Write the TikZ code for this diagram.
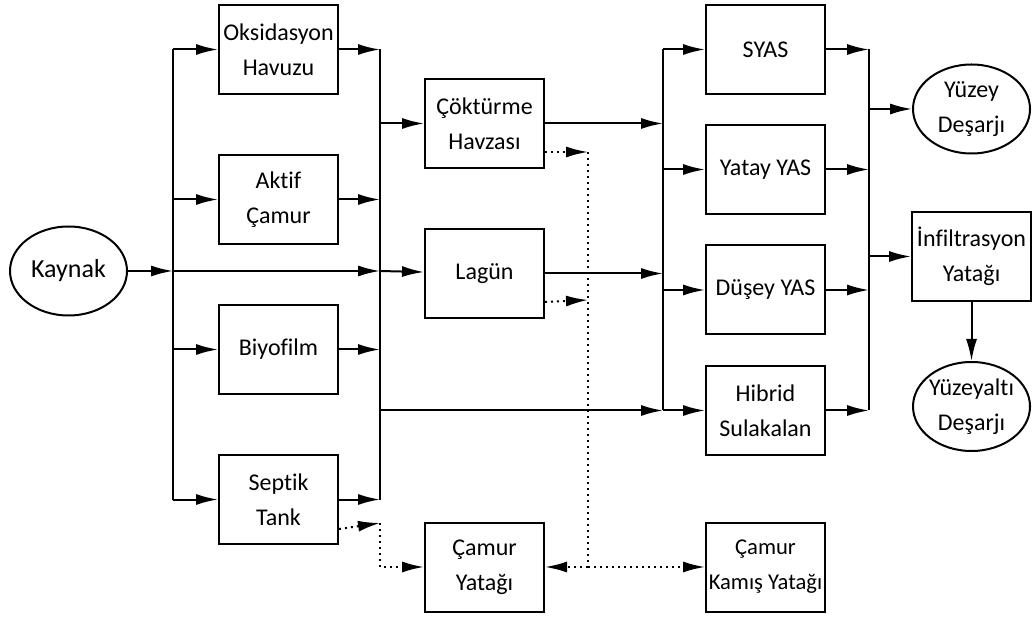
\documentclass[tikz,border=0pt]{standalone}
\usepackage{fontspec}
\setmainfont{Carlito}[Ligatures=CommonOff]
\usetikzlibrary{arrows.meta}
\usetikzlibrary{positioning}
\usetikzlibrary{shapes.geometric}

\begin{document}
\begin{tikzpicture}[x=0.5pt, y=-0.5pt, >={Latex[length=11pt, width=5.5pt]}, line width=1pt]
	\tikzstyle{box} = [draw, rectangle, minimum width=59.5pt, minimum height=44.5pt, inner sep=0pt, align=center, font=\fontsize{12}{17.5}\selectfont];
	\tikzstyle{oval} = [draw, ellipse, minimum width=58.5pt, minimum height=44.5pt, inner xsep=-1.2pt, inner ysep=0pt, align=center, font=\fontsize{12}{17.5}\selectfont];
	\tikzstyle{sludge} = [->, dotted];

	\useasboundingbox (0,0) rectangle (1032,619);

	\node [oval, font=\fontsize{13}{17.5}\selectfont] (kaynak) at (68.5,271) {Kaynak};

	\node [box] (oks)                          at (278.5,49.5) {Oksidasyon\\Havuzu};
	\node [box] (aktif)  [below=29.5pt of oks]   {Aktif\\Çamur};
	\node [box] (biyo)   [below=29.5pt of aktif] {Biyofilm};
	\node [box] (septik) [below=29.5pt of biyo]  {Septik\\Tank};

	\node [box] (cokt)                         at (484.5,123.5) {Çöktürme\\Havzası};
	\node [box] (lagun)  [below=29.5pt of cokt]  {Lagün};
	\node [box] (camur)                        at (484.5,567) {Çamur\\Yatağı};

	\node [box] (syas)                         at (765.5,49.5) {SYAS};
	\node [box] (yatay)  [below=14.5pt of syas]  {Yatay YAS};
	\node [box] (dusey)  [below=14.75pt of yatay] {Düşey YAS};
	\node [box] (hibrid) [below=14.75pt of dusey] {Hibrid\\Sulakalan};
	\node [box, font=\fontsize{11.3}{17.5}\selectfont] (kamis) at (765.5,567) {Çamur\\Kamış Yatağı};

	\node [oval] (yuzey)                       at (971.5,109) {Yüzey\\Deşarjı};
	\node [box] (infil)                        at (971.5,256.5) {İnfiltrasyon\\Yatağı};
	\node [oval] (yuzeyalti) [below=29.5pt of infil] {Yüzeyaltı\\Deşarjı};

	% collectors
	\coordinate (lbus) at (173,271);
	\coordinate (rbus) at (380,271);
	\coordinate (mbus) at (663,271);
	\coordinate (obus) at (869,271);
	\coordinate (dtop) at (588,152);
	\coordinate (dmid) at (588,300);
	\coordinate (dbot) at (588,567);
	\coordinate (sdot) at (380,523);
	\coordinate (sbot) at (380,567);

	% water line
	\draw [->] (kaynak) -- (lbus);
	\draw [->] (lbus) -- (rbus);
	\draw [->] (rbus) -- (lagun);
	\draw (lbus |- oks) -- (lbus |- septik);
	\draw (rbus |- oks) -- (rbus |- septik);
	\foreach \n in {oks, aktif, biyo, septik} {
		\draw [->] (lbus |- \n) -- (\n);
		\draw [->] (\n) -- (rbus |- \n);
	}
	\draw [->] (rbus |- cokt) -- (cokt);
	\draw [->] (cokt) -- (mbus |- cokt);
	\draw [->] (lagun) -- (mbus |- lagun);
	\draw [->] (rbus |- hibrid) -- (mbus |- hibrid);
	\draw (mbus |- syas) -- (mbus |- hibrid);
	\draw (obus |- syas) -- (obus |- hibrid);
	\foreach \n in {syas, yatay, dusey, hibrid} {
		\draw [->] (mbus |- \n) -- (\n);
		\draw [->] (\n) -- (obus |- \n);
	}
	\draw [->] (obus |- yuzey) -- (yuzey);
	\draw [->] (obus |- infil) -- (infil);
	\draw [->] (infil) -- (yuzeyalti);

	% sludge line
	\draw [sludge] ([yshift=-14.25pt]cokt.east) -- (dtop);
	\draw [sludge] ([yshift=-14.25pt]lagun.east) -- (dmid);
	\draw [dotted] (dtop) -- (dbot);
	\draw [sludge] (dbot) -- (camur);
	\draw [sludge] (dbot) -- (kamis);
	\draw [sludge] ([yshift=-14.75pt]septik.east) -- (sdot);
	\draw [sludge] (sdot) -- (sbot) -- (camur);
\end{tikzpicture}
\end{document}
